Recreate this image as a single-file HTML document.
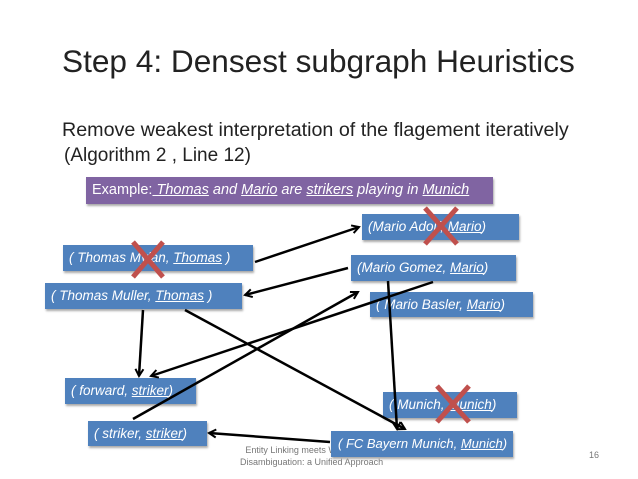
<!DOCTYPE html>
<html><head><style>
body{margin:0;width:638px;height:479px;background:#fff;position:relative;overflow:hidden;font-family:"Liberation Sans",sans-serif}
.t{position:absolute;white-space:nowrap}
.b{position:absolute;background:#4f81bd;color:#fff;font-style:italic;font-size:13.5px;line-height:26px;padding-left:6px;box-sizing:border-box;box-shadow:1px 2px 2px #aaa;white-space:nowrap;overflow:hidden}
u{text-decoration:underline}
</style></head><body>
<div class="t" style="left:62px;top:43px;font-size:31.6px;color:#222">Step 4: Densest subgraph Heuristics</div>
<div class="t" style="left:62px;top:119px;font-size:19.7px;color:#222">Remove weakest interpretation of the flagement iteratively</div>
<div class="t" style="left:64px;top:145px;font-size:19px;color:#222">(Algorithm 2 , Line 12)</div>
<div class="b" style="left:86px;top:177px;width:407px;height:27px;background:#8064a2;font-style:normal;font-size:14.5px">Example:<i><u> Thomas</u> and <u>Mario</u> are <u>strikers</u> playing in <u>Munich</u></i></div>
<div class="b" style="left:362px;top:214px;width:157px;height:26px">(Mario Adolf, <u>Mario</u>)</div>
<div class="b" style="left:63px;top:245px;width:190px;height:26px">( Thomas Mylan, <u>Thomas</u> )</div>
<div class="b" style="left:351px;top:255px;width:165px;height:26px">(Mario Gomez, <u>Mario</u>)</div>
<div class="b" style="left:45px;top:283px;width:197px;height:26px">( Thomas Muller, <u>Thomas</u> )</div>
<div class="b" style="left:370px;top:292px;width:163px;height:25px">( Mario Basler, <u>Mario</u>)</div>
<div class="b" style="left:65px;top:378px;width:131px;height:26px">( forward, <u>striker</u>)</div>
<div class="b" style="left:88px;top:421px;width:119px;height:25px">( striker, <u>striker</u>)</div>
<div class="b" style="left:383px;top:392px;width:134px;height:26px">( Munich, <u>Munich</u>)</div>
<div class="t" style="left:240px;top:444px;font-size:9px;color:#777;text-align:center;line-height:12px">Entity Linking meets Word Sense<br>Disambiguation: a Unified Approach</div>
<div class="b" style="left:331px;top:431px;width:182px;height:26px;padding-left:7px;font-size:13px">( FC Bayern Munich, <u>Munich</u>)</div>
<div class="t" style="left:589px;top:450px;font-size:9px;color:#777">16</div>
<svg width="638" height="479" style="position:absolute;left:0;top:0">
<defs><marker id="a" markerWidth="10" markerHeight="10" refX="8" refY="5" orient="auto" markerUnits="userSpaceOnUse"><path d="M1,1 L8,5 L1,9" fill="none" stroke="#000" stroke-width="2"/></marker></defs>
<g stroke="#000" stroke-width="2.5" fill="none" marker-end="url(#a)">
<line x1="255" y1="262" x2="359" y2="227"/>
<line x1="348" y1="268" x2="245" y2="295"/>
<line x1="143" y1="310" x2="139" y2="376"/>
<line x1="185" y1="310" x2="405" y2="429"/>
<line x1="433" y1="282" x2="151" y2="376"/>
<line x1="133" y1="419" x2="358" y2="292"/>
<line x1="388" y1="281" x2="397" y2="429"/>
<line x1="330" y1="442" x2="209" y2="433"/>
</g>
<g stroke="#c0504d" stroke-width="5">
<line x1="133" y1="242" x2="163" y2="277"/><line x1="163" y1="242" x2="133" y2="277"/>
<line x1="425" y1="208" x2="457" y2="244"/><line x1="457" y1="208" x2="425" y2="244"/>
<line x1="437" y1="386" x2="469" y2="422"/><line x1="469" y1="386" x2="437" y2="422"/>
</g>
</svg>
</body></html>
